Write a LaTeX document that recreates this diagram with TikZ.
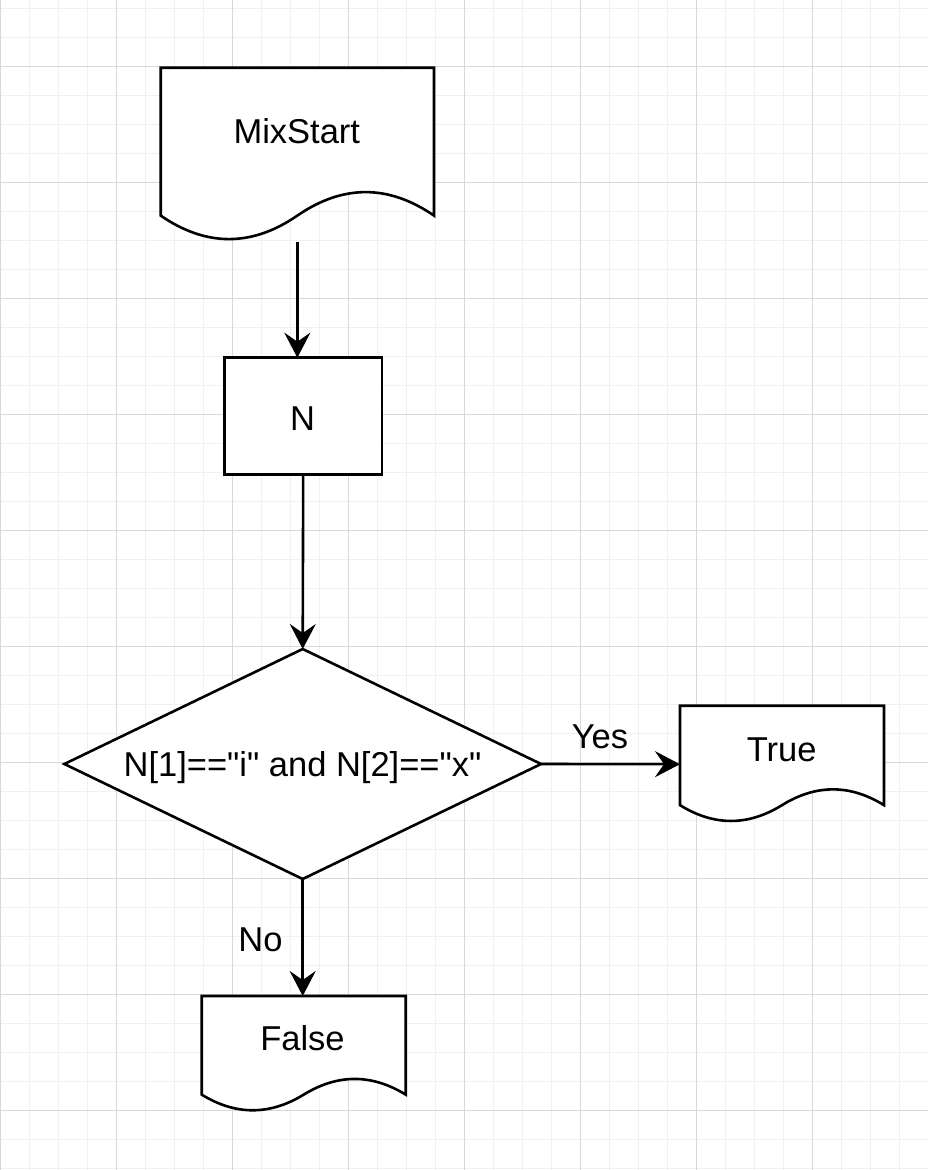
\documentclass[tikz,border=0pt]{standalone}
\usepackage{fontspec}
\newfontfamily\diafont{Liberation Sans}
\setmainfont{Liberation Sans}
\usetikzlibrary{arrows.meta,shapes.geometric,calc}
\definecolor{gridminor}{HTML}{F1F1F1}
\definecolor{gridmajor}{HTML}{D8D8D8}
\tikzset{
  minorline/.style={draw=gridminor, line width=1pt},
  majorline/.style={draw=gridmajor, line width=1pt},
  box/.style={rectangle, inner sep=0pt, outer sep=0pt},
  outline/.style={draw=black, fill=white, line width=2.6pt},
  procbox/.style={rectangle, draw=black, fill=white, line width=2.6pt, inner sep=0pt, outer sep=0pt},
  decbox/.style={diamond, draw=black, fill=white, line width=2.6pt, inner sep=0pt, outer sep=0pt},
  txt/.style={font=\diafont\fontsize{34.5}{41}\selectfont, inner sep=0pt, anchor=base},
  conn/.style={draw=black, line width=2.6pt, -{Stealth[length=25pt,width=26pt,inset=9pt]}},
}
\newcommand{\docshape}[5]{%
  \node[box, minimum width=#4pt, minimum height=#5pt] (#1) at ({#2+#4/2},{#3+#5/2}) {};
  \draw[outline] (#2,#3) -- ({#2+#4},#3) -- ({#2+#4},{#3+0.85*#5})
    .. controls ({#2+0.8333*#4},{#3+0.67*#5}) and ({#2+0.6667*#4},{#3+0.67*#5}) .. ({#2+0.5*#4},{#3+0.85*#5})
    .. controls ({#2+0.3333*#4},{#3+1.03*#5}) and ({#2+0.1667*#4},{#3+1.03*#5}) .. (#2,{#3+0.85*#5}) -- cycle;
}
\begin{document}
\begin{tikzpicture}[x=1pt,y=-1pt]
\useasboundingbox (0,0) rectangle (928,1170);
\fill[white] (0,0) rectangle (928,1170);
% grid
\foreach \i in {0,...,32} \draw[minorline] ({0.5+29*\i},0) -- ({0.5+29*\i},1170);
\foreach \i in {0,...,40} \draw[minorline] (0,{8.7+29*\i}) -- (928,{8.7+29*\i});
\foreach \i in {0,...,8} \draw[majorline] ({0.5+116*\i},0) -- ({0.5+116*\i},1170);
\foreach \i in {0,...,9} \draw[majorline] (0,{66.7+116*\i}) -- (928,{66.7+116*\i});

% shapes
\docshape{ms}{160.7}{67.7}{273.3}{174}
\node[txt] (mst) at (296.8,143.3) {MixStart};

\node[procbox, minimum width=157.7pt, minimum height=116.6pt] (n) at (303.2,416) {};
\node[txt] (nt) at (302.5,430) {N};

\node[decbox, minimum width=476.7pt, minimum height=230pt] (d) at (302.7,764) {};
\node[txt] (dt) at (302.5,776.7) {N[1]=="i" and N[2]=="x"};

\docshape{t}{680}{705.7}{204}{117}
\node[txt] (tt) at (781.7,761) {True};

\docshape{f}{201.7}{996}{204}{116}
\node[txt] (ft) at (302.5,1050.7) {False};

% connectors
\draw[conn] (ms.south) -- (ms.south |- n.north);
\draw[conn] (n.south) -- (d.north);
\draw[conn] (d.east) -- (t.west);
\draw[conn] (d.south) -- (d.south |- f.north);

% edge labels
\node[txt] (yes) at (600,748.3) {Yes};
\node[txt] (no) at (260.5,951.7) {No};
\end{tikzpicture}
\end{document}
